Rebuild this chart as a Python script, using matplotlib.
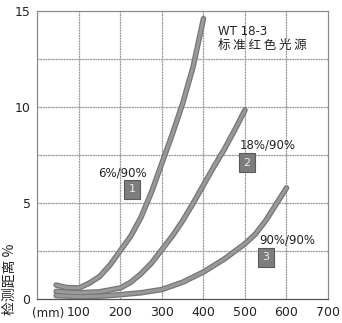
import matplotlib
matplotlib.use("Agg")
import matplotlib.pyplot as plt

plt.rcParams['font.family'] = ['Noto Sans CJK SC', 'DejaVu Sans']

# curve data (mm, detection distance)
x1 = [45, 70, 100, 125, 150, 175, 200, 225, 250, 275, 300, 325, 350, 375, 400]
y1 = [0.75, 0.62, 0.6, 0.85, 1.2, 1.8, 2.55, 3.3, 4.3, 5.6, 7.1, 8.6, 10.2, 12.1, 14.6]
x2 = [45, 100, 150, 200, 225, 250, 275, 300, 325, 350, 375, 400, 425, 450, 475, 500]
y2 = [0.42, 0.35, 0.4, 0.6, 0.9, 1.35, 1.9, 2.6, 3.3, 4.1, 5.0, 5.95, 6.9, 7.8, 8.8, 9.85]
x3 = [45, 100, 150, 200, 250, 300, 350, 400, 450, 500, 525, 550, 575, 600]
y3 = [0.2, 0.15, 0.17, 0.25, 0.35, 0.52, 0.9, 1.43, 2.1, 2.9, 3.4, 4.1, 4.95, 5.8]

xticks = [100, 200, 300, 400, 500, 600, 700]
yticks = [0, 5, 10, 15]

labels = ["6%/90%", "18%/90%", "90%/90%"]
label_pos = [(204, 6.6), (555, 8.04), (603, 3.1)]
box_nums = ["1", "2", "3"]
box_pos = [(228, 5.73), (505, 7.1), (550, 2.19)]

fig = plt.figure(figsize=(3.42, 3.23), dpi=100)
ax = fig.add_axes([0.1096, 0.0728, 0.8494, 0.8932])
ax.set_xlim(0, 700)
ax.set_ylim(0, 15)

# grid
for gx in range(100, 700, 100):
    ax.axvline(gx, color='#9a9a9a', lw=0.9, ls=(0, (1.6, 0.5)), zorder=1)
for gy in [2.5, 5, 7.5, 10, 12.5]:
    ax.axhline(gy, color='#9a9a9a', lw=0.9, ls=(0, (1.6, 0.5)), zorder=1)

for xs, ys in [(x1, y1), (x2, y2), (x3, y3)]:
    ax.plot(xs, ys, color='#767676', lw=4.0, solid_capstyle='round',
            solid_joinstyle='round', zorder=3)
    ax.plot(xs, ys, color='#999999', lw=2.2, solid_capstyle='round',
            solid_joinstyle='round', zorder=4)

for t, (lx, ly) in zip(labels, label_pos):
    ax.text(lx, ly, t, ha='center', va='center', fontsize=8.5,
            family='DejaVu Sans', color='#222222', zorder=5)
for n, (bx, by) in zip(box_nums, box_pos):
    ax.text(bx, by, n, ha='center', va='center', fontsize=8,
            family='DejaVu Sans', color='#eeeeee', zorder=5,
            bbox=dict(boxstyle='square,pad=0.4', fc='#7d7d7d', ec='#5a5a5a', lw=0.8))

ax.text(436, 13.93, "WT 18-3", ha='left', va='center', fontsize=8.5,
        family='DejaVu Sans', color='#222222')
ax.text(436, 13.22, "标 准 红 色 光 源", ha='left', va='center', fontsize=9,
        color='#222222')

ax.set_xticks(xticks)
ax.set_yticks(yticks)
ax.tick_params(length=0, labelsize=9, colors='#222222', pad=5)
for lab in ax.get_xticklabels() + ax.get_yticklabels():
    lab.set_family('DejaVu Sans')
ax.text(25, -0.75, "(mm)", ha='center', va='center', fontsize=8.5,
        family='DejaVu Sans', color='#222222', clip_on=False)

for s in ax.spines.values():
    s.set_color('#8a8a8a')
    s.set_linewidth(0.9)
ax.spines['bottom'].set_color('#555555')

fig.text(0.03, 0.135, "检测距离 %", rotation=90, ha='center', va='center',
         fontsize=10, color='#222222')

fig.savefig("out.png", dpi=100)
